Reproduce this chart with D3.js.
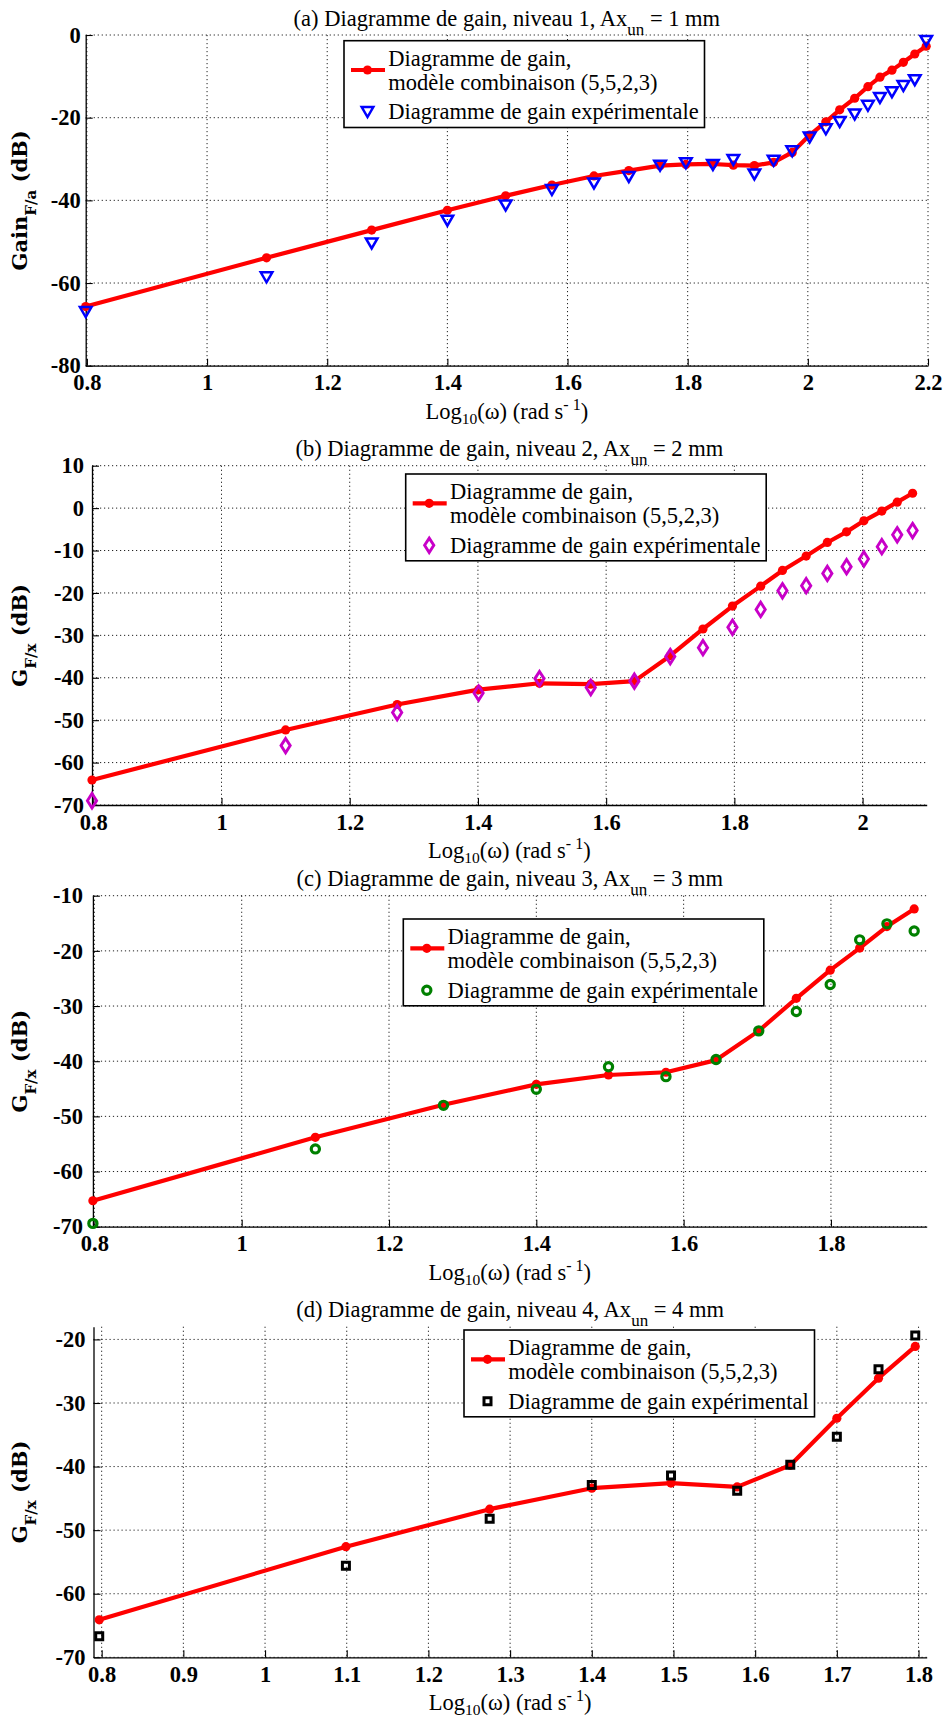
<!DOCTYPE html>
<html>
<head>
<meta charset="utf-8">
<script src="https://cdn.jsdelivr.net/npm/d3@7"></script>
<style>
  body { margin: 0; background: #fff; }
  svg text { font-family: "Liberation Serif", "Times New Roman", serif; fill: #000; }
  svg text.ylab { font-family: "DejaVu Serif", serif; }
</style>
</head>
<body>
<svg id="fig" width="946" height="1724"></svg>
<script>
// ---- Level 1 (Ax_un = 1 mm) ----
const logOmegaA = [0.798, 1.099, 1.274, 1.400, 1.497, 1.574, 1.644, 1.702, 1.754, 1.797, 1.842, 1.876, 1.911, 1.943, 1.974, 2.003, 2.030, 2.053, 2.078, 2.100, 2.120, 2.140, 2.159, 2.178, 2.197];
const gainModelA = [-65.7, -53.9, -47.2, -42.4, -38.9, -36.3, -34.1, -32.8, -31.6, -31.3, -31.2, -31.5, -31.6, -30.8, -28.4, -24.2, -21.0, -18.1, -15.3, -12.5, -10.2, -8.5, -6.6, -4.6, -2.7];
const gainExpA   = [-67.0, -58.6, -50.4, -44.9, -41.2, -37.5, -35.9, -34.3, -31.6, -31.0, -31.4, -30.2, -33.7, -30.4, -28.1, -24.8, -22.8, -21.0, -19.2, -17.1, -15.2, -13.8, -12.3, -10.9, -1.4];
const xTicksA = [0.8, 1, 1.2, 1.4, 1.6, 1.8, 2, 2.2];
const yTicksA = [-80, -60, -40, -20, 0];

// ---- Level 2 (Ax_un = 2 mm) ----
const logOmegaB = [0.798, 1.100, 1.274, 1.401, 1.496, 1.576, 1.644, 1.700, 1.751, 1.797, 1.841, 1.875, 1.912, 1.945, 1.975, 2.002, 2.030, 2.054, 2.078];
const gainModelB = [-64.1, -52.3, -46.3, -42.8, -41.3, -41.5, -40.8, -34.8, -28.5, -23.1, -18.4, -14.7, -11.3, -8.1, -5.6, -3.0, -0.7, 1.4, 3.5];
const gainExpB   = [-69.0, -56.0, -48.2, -43.6, -40.2, -42.3, -40.8, -35.0, -32.9, -28.1, -23.9, -19.5, -18.3, -15.4, -13.8, -12.0, -9.1, -6.3, -5.3];
const xTicksB = [0.8, 1, 1.2, 1.4, 1.6, 1.8, 2];
const yTicksB = [-70, -60, -50, -40, -30, -20, -10, 0, 10];

// ---- Level 3 (Ax_un = 3 mm) ----
const logOmegaC = [0.798, 1.100, 1.274, 1.400, 1.498, 1.576, 1.644, 1.702, 1.753, 1.799, 1.839, 1.876, 1.913];
const gainModelC = [-65.3, -53.8, -47.9, -44.2, -42.5, -42.0, -39.8, -34.5, -28.6, -23.5, -19.5, -15.6, -12.4];
const gainExpC   = [-69.4, -55.9, -48.0, -45.1, -41.0, -42.8, -39.7, -34.5, -31.0, -26.1, -18.0, -15.1, -16.4];
const xTicksC = [0.8, 1, 1.2, 1.4, 1.6, 1.8];
const yTicksC = [-70, -60, -50, -40, -30, -20, -10];

// ---- Level 4 (Ax_un = 4 mm) ----
const logOmegaD = [0.797, 1.099, 1.275, 1.400, 1.497, 1.578, 1.643, 1.700, 1.751, 1.796];
const gainModelD = [-64.1, -52.6, -46.7, -43.4, -42.6, -43.2, -39.8, -32.4, -26.1, -21.1];
const gainExpD   = [-66.7, -55.6, -48.2, -42.9, -41.4, -43.8, -39.7, -35.3, -24.7, -19.4];
const xTicksD = [0.8, 0.9, 1, 1.1, 1.2, 1.3, 1.4, 1.5, 1.6, 1.7, 1.8];
const yTicksD = [-70, -60, -50, -40, -30, -20];

// ---- Text ----
const modelLegend = ["Diagramme de gain,", "modèle combinaison (5,5,2,3)"];
const expLegendFem = "Diagramme de gain expérimentale";
const expLegendMasc = "Diagramme de gain expérimental";

// ---- Panel layout (pixel frame, domains, marker style) ----
const panels = [
  { tag: "(a)", level: 1, amp: "1 mm", yMain: "Gain", ySub: "F/a",
    x: logOmegaA, model: gainModelA, exp: gainExpA, xTicks: xTicksA, yTicks: yTicksA,
    xDomain: [0.798, 2.2], yDomain: [-80, 0],
    frame: { left: 85.7, right: 928, top: 35, bottom: 365.7 }, yPad: 5,
    marker: "triangleDown", color: "#0000ff", expText: expLegendFem,
    legend: { x: 344, y: 40.7 } },
  { tag: "(b)", level: 2, amp: "2 mm", yMain: "G", ySub: "F/x",
    x: logOmegaB, model: gainModelB, exp: gainExpB, xTicks: xTicksB, yTicks: yTicksB,
    xDomain: [0.798, 2.1], yDomain: [-70, 10],
    frame: { left: 92, right: 926.7, top: 465.7, bottom: 805 }, yPad: 8,
    marker: "diamond", color: "#c800c8", expText: expLegendFem,
    legend: { x: 405.7, y: 474 } },
  { tag: "(c)", level: 3, amp: "3 mm", yMain: "G", ySub: "F/x",
    x: logOmegaC, model: gainModelC, exp: gainExpC, xTicks: xTicksC, yTicks: yTicksC,
    xDomain: [0.798, 1.93], yDomain: [-70, -10],
    frame: { left: 92.9, right: 926.7, top: 895.7, bottom: 1226.7 }, yPad: 10,
    marker: "circle", color: "#008000", expText: expLegendFem,
    legend: { x: 403.3, y: 919 } },
  { tag: "(d)", level: 4, amp: "4 mm", yMain: "G", ySub: "F/x",
    x: logOmegaD, model: gainModelD, exp: gainExpD, xTicks: xTicksD, yTicks: yTicksD,
    xDomain: [0.79, 1.81], yDomain: [-70, -18],
    frame: { left: 93.5, right: 926.7, top: 1326.7, bottom: 1657.3 }, yPad: 8,
    marker: "square", color: "#000000", expText: expLegendMasc,
    legend: { x: 464, y: 1330 } }
];

const FS = 22.5;          // body text size
const SUB = 17;           // title subscript size
const RED = "#ff0000";
const LINE_W = 4.2;
const DOT_R = 4.6;

// marker outlines drawn around (0,0)
const shapes = {
  triangleDown: p => { p.moveTo(-5.8, -4.9); p.lineTo(5.8, -4.9); p.lineTo(0, 5.1); p.closePath(); },
  diamond:      p => { p.moveTo(0, -7.2); p.lineTo(4.6, 0); p.lineTo(0, 7.2); p.lineTo(-4.6, 0); p.closePath(); },
  circle:       p => { p.moveTo(4.1, 0); p.arc(0, 0, 4.1, 0, 2 * Math.PI); },
  square:       p => { p.rect(-3.5, -3.5, 7, 7); }
};
const markerWidth = { triangleDown: 2.5, diamond: 2.9, circle: 3.2, square: 3 };
function shapePath(name) { const p = d3.path(); shapes[name](p); return p.toString(); }

const svg = d3.select("#fig");

panels.forEach(P => {
  const f = P.frame;
  const x = d3.scaleLinear().domain(P.xDomain).range([f.left, f.right]);
  const y = d3.scaleLinear().domain(P.yDomain).range([f.bottom, f.top]);
  const g = svg.append("g");
  const cx = (f.left + f.right) / 2;

  // dotted grid
  const grid = g.append("g").attr("stroke", "#222").attr("stroke-width", 1)
    .attr("stroke-dasharray", "1.2,2.8");
  grid.selectAll("line.vx").data(P.xTicks).join("line")
    .attr("x1", d => x(d)).attr("x2", d => x(d))
    .attr("y1", f.top).attr("y2", f.bottom);
  grid.selectAll("line.hy").data(P.yTicks).join("line")
    .attr("x1", f.left).attr("x2", f.right)
    .attr("y1", d => y(d)).attr("y2", d => y(d));

  // axes (left and bottom only, ticks pointing inward)
  const xAxis = d3.axisBottom(x).tickValues(P.xTicks).tickFormat(d => String(d))
    .tickSizeInner(-7).tickSizeOuter(0).tickPadding(8.7);
  const yAxis = d3.axisLeft(y).tickValues(P.yTicks).tickFormat(d => String(d))
    .tickSizeInner(-7).tickSizeOuter(0).tickPadding(P.yPad);
  const gx = g.append("g").attr("transform", `translate(0,${f.bottom})`).call(xAxis);
  const gy = g.append("g").attr("transform", `translate(${f.left},0)`).call(yAxis);
  [gx, gy].forEach(a => {
    a.select(".domain").attr("stroke", "#000").attr("stroke-width", 1.3);
    a.selectAll(".tick line").attr("stroke", "#000").attr("stroke-width", 1.1);
    a.selectAll(".tick text").attr("font-size", FS).attr("font-weight", "bold").attr("fill", "#000");
  });

  // model curve
  const pts = P.x.map((v, i) => [v, P.model[i]]);
  g.append("path").datum(pts)
    .attr("d", d3.line().x(d => x(d[0])).y(d => y(d[1])))
    .attr("fill", "none").attr("stroke", RED).attr("stroke-width", LINE_W)
    .attr("stroke-linejoin", "round");
  g.selectAll("circle.model").data(pts).join("circle")
    .attr("cx", d => x(d[0])).attr("cy", d => y(d[1])).attr("r", DOT_R).attr("fill", RED);

  // experimental points
  const ep = P.x.map((v, i) => [v, P.exp[i]]);
  const mp = shapePath(P.marker);
  g.selectAll("path.exp").data(ep).join("path")
    .attr("d", mp)
    .attr("transform", d => `translate(${x(d[0])},${y(d[1])})`)
    .attr("fill", "none").attr("stroke", P.color).attr("stroke-width", markerWidth[P.marker]);

  // title
  const t = g.append("text").attr("x", cx).attr("y", f.top - 9.5)
    .attr("text-anchor", "middle").attr("font-size", FS);
  t.append("tspan").text(`${P.tag} Diagramme de gain, niveau ${P.level}, Ax`);
  t.append("tspan").attr("dy", 9).attr("font-size", SUB).text("un");
  t.append("tspan").attr("dy", -9).attr("font-size", FS).text(` = ${P.amp}`);

  // x label
  const xl = g.append("text").attr("x", cx).attr("y", f.bottom + 53)
    .attr("text-anchor", "middle").attr("font-size", FS);
  xl.append("tspan").text("Log");
  xl.append("tspan").attr("dy", 5).attr("font-size", 15.5).text("10");
  xl.append("tspan").attr("dy", -5).attr("font-size", FS).text("(ω) (rad s");
  xl.append("tspan").attr("dy", -9).attr("font-size", 16).text("- 1");
  xl.append("tspan").attr("dy", 9).attr("font-size", FS).text(")");

  // y label
  const yc = (f.top + f.bottom) / 2;
  const yl = g.append("text").attr("class", "ylab")
    .attr("transform", `translate(27,${yc}) rotate(-90)`)
    .attr("text-anchor", "middle").attr("font-size", 21).attr("font-weight", "bold");
  yl.append("tspan").text(P.yMain);
  yl.append("tspan").attr("dy", 9).attr("font-size", 15).text(P.ySub);
  yl.append("tspan").attr("dy", -9).attr("font-size", 21).text(" (dB)");

  // legend
  const L = P.legend;
  const lg = g.append("g").attr("transform", `translate(${L.x},${L.y})`);
  const box = lg.append("rect").attr("fill", "#fff").attr("stroke", "#000").attr("stroke-width", 1.6);
  const lines = [
    { text: modelLegend[0], y: 25 },
    { text: modelLegend[1], y: 49.3 },
    { text: P.expText, y: 78.6 }
  ];
  const tx = lg.selectAll("text").data(lines).join("text")
    .attr("x", 44.3).attr("y", d => d.y).attr("font-size", FS).text(d => d.text);
  let maxW = 0;
  tx.each(function () { maxW = Math.max(maxW, this.getComputedTextLength()); });
  box.attr("x", 0).attr("y", 0).attr("width", maxW + 50).attr("height", 86.8);
  lg.append("line").attr("x1", 7).attr("x2", 41).attr("y1", 29.3).attr("y2", 29.3)
    .attr("stroke", RED).attr("stroke-width", LINE_W);
  lg.append("circle").attr("cx", 23.5).attr("cy", 29.3).attr("r", DOT_R).attr("fill", RED);
  lg.append("path").attr("d", mp).attr("transform", "translate(23.5,71.3)")
    .attr("fill", "none").attr("stroke", P.color).attr("stroke-width", markerWidth[P.marker]);
});
</script>
</body>
</html>
